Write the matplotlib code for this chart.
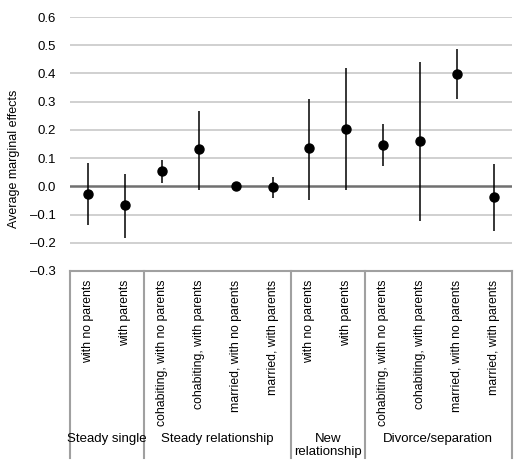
import numpy as np
import matplotlib.pyplot as plt

plt.rcParams['font.family'] = ['Liberation Sans', 'DejaVu Sans']

categories = ['with no parents', 'with parents',
              'cohabiting, with no parents', 'cohabiting, with parents',
              'married, with no parents', 'married, with parents',
              'with no parents', 'with parents',
              'cohabiting, with no parents', 'cohabiting, with parents',
              'married, with no parents', 'married, with parents']
effects = [-0.026, -0.067, 0.054, 0.131, 0.001, -0.002,
           0.136, 0.205, 0.148, 0.160, 0.398, -0.038]
upper = [0.084, 0.045, 0.092, 0.266, 0.004, 0.033,
         0.309, 0.418, 0.220, 0.439, 0.486, 0.080]
lower = [-0.138, -0.182, 0.012, -0.012, -0.002, -0.040,
         -0.047, -0.012, 0.071, -0.124, 0.308, -0.160]
groups = ['Steady single', 'Steady relationship', 'New\nrelationship', 'Divorce/separation']
group_sizes = [2, 4, 2, 4]

x = np.arange(len(categories))
effects = np.array(effects)
yerr = [effects - np.array(lower), np.array(upper) - effects]

fig = plt.figure(figsize=(5.2, 4.74), dpi=100)
ax = fig.add_axes([0.1346, 0.4283, 0.85, 0.5357])

# gridlines
for v in np.arange(-0.3, 0.61, 0.1):
    if abs(v) < 1e-9:
        continue
    ax.axhline(v, color='#c8c8c8', lw=1.2, zorder=0)
ax.axhline(0, color='#707070', lw=1.8, zorder=1)

ax.errorbar(x, effects, yerr=yerr, fmt='o', color='black', ms=6.5,
            elinewidth=1.1, capsize=0, zorder=3)

ax.set_xlim(-0.5, len(categories) - 0.5)
ax.set_ylim(-0.3, 0.6)
ax.set_yticks(np.arange(-0.3, 0.61, 0.1))
ax.set_yticklabels(['%.1f' % v if v > -0.05 else '\u2013%.1f' % abs(v)
                    for v in np.arange(-0.3, 0.61, 0.1)], fontsize=9.5)
ax.tick_params(axis='y', length=0, pad=10)
ax.set_xticks([])
for s in ax.spines.values():
    s.set_visible(False)
ax.set_ylabel('Average marginal effects', fontsize=9)
ax.yaxis.set_label_coords(-0.112, 0.44)

# category box below
tr = ax.get_xaxis_transform()
bottom = -0.736
ax.plot([-0.5, len(categories) - 0.5], [0, 0], transform=tr, color='#a0a0a0',
        lw=1.5, clip_on=False)
bounds = np.concatenate([[0], np.cumsum(group_sizes)]) - 0.5
for b in bounds:
    ax.plot([b, b], [0, bottom], transform=tr, color='#a0a0a0', lw=1.5, clip_on=False)

for xi, lab in zip(x, categories):
    ax.text(xi, -0.035, lab, transform=tr, rotation=90, ha='center', va='top', fontsize=8.8)

for i, g in enumerate(groups):
    c = (bounds[i] + bounds[i + 1]) / 2
    ax.text(c, -0.64, g, transform=tr, ha='center', va='top', fontsize=9.5,
            linespacing=1.05)

fig.savefig('out.png', dpi=100)
